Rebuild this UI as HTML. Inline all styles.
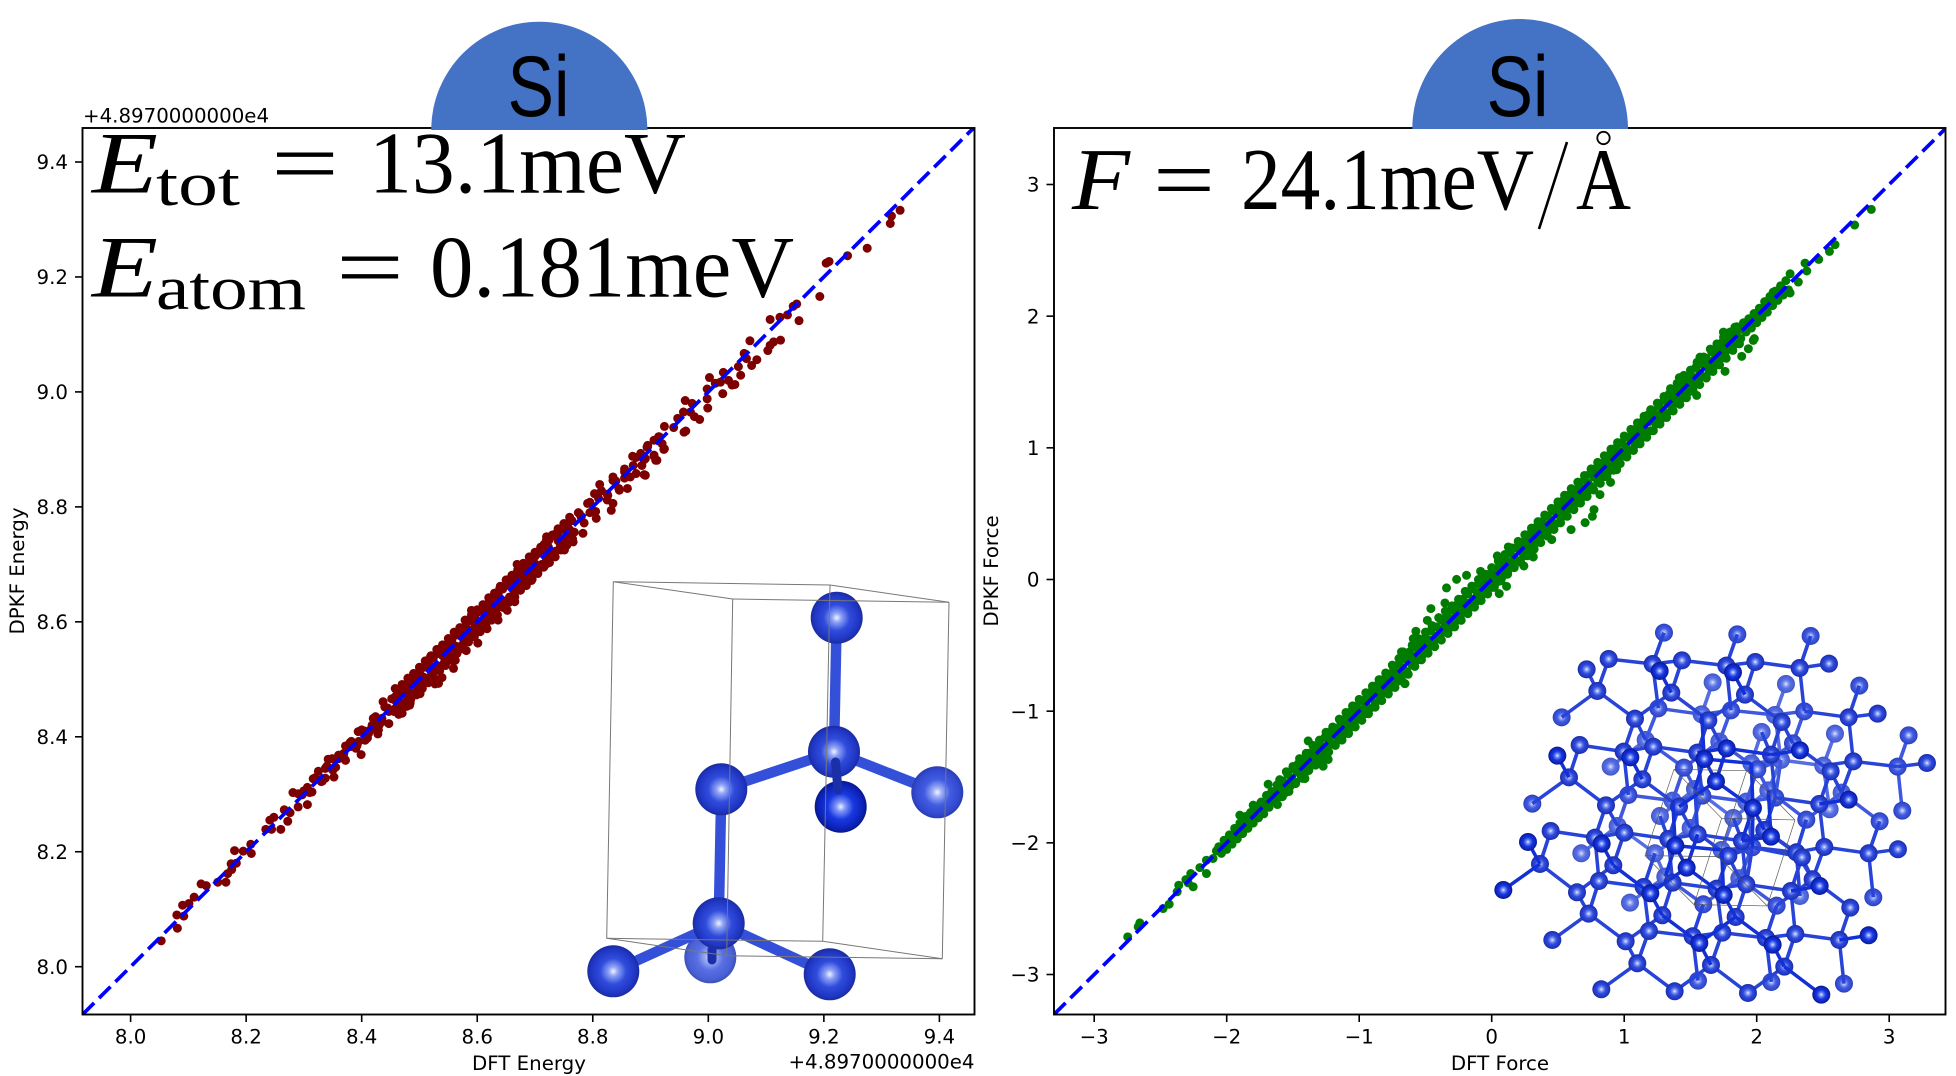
<!DOCTYPE html>
<html lang="en">
<head>
<meta charset="utf-8">
<title>DPKF parity plots for Si</title>
<style>
html,body{margin:0;padding:0;background:#fff;}
svg{display:block;}
.tick{font-family:"DejaVu Sans","Liberation Sans",sans-serif;font-size:19.8px;fill:#000;}
.math{font-family:"Liberation Serif",serif;fill:#000;}
.si{font-family:"Liberation Sans",sans-serif;fill:#000;}
</style>
</head>
<body>
<svg id="fig" xmlns="http://www.w3.org/2000/svg" width="1956" height="1076" viewBox="0 0 1956 1076">
<defs>
<radialGradient id="atom0" cx="50%" cy="50%" r="50%"><stop offset="0" stop-color="#eef4ff"/><stop offset=".18" stop-color="#a0b0f5"/><stop offset=".5" stop-color="#5870e4"/><stop offset=".85" stop-color="#4a60d6"/><stop offset="1" stop-color="#3c50b8"/></radialGradient>
<radialGradient id="atom1" cx="50%" cy="50%" r="50%"><stop offset="0" stop-color="#f0f6ff"/><stop offset=".18" stop-color="#9caef6"/><stop offset=".5" stop-color="#425ce0"/><stop offset=".85" stop-color="#3249d0"/><stop offset="1" stop-color="#2a3cb0"/></radialGradient>
<radialGradient id="atom2" cx="50%" cy="50%" r="50%"><stop offset="0" stop-color="#f0f6ff"/><stop offset=".18" stop-color="#8ea2f6"/><stop offset=".5" stop-color="#304cdc"/><stop offset=".85" stop-color="#2036c4"/><stop offset="1" stop-color="#1a2c9e"/></radialGradient>
<radialGradient id="atom3" cx="50%" cy="50%" r="50%"><stop offset="0" stop-color="#eef4ff"/><stop offset=".18" stop-color="#7f96f8"/><stop offset=".5" stop-color="#1838e0"/><stop offset=".85" stop-color="#0c22b8"/><stop offset="1" stop-color="#081888"/></radialGradient>
<clipPath id="clip-energy"><rect x="82.5" y="128" width="892" height="886.5"/></clipPath>
<clipPath id="clip-force"><rect x="1054" y="128" width="891.5" height="886.5"/></clipPath>
</defs>
<rect x="0" y="0" width="1956" height="1076" fill="#fff"/>
<g id="energy-marks" clip-path="url(#clip-energy)"></g>
<g id="force-marks" clip-path="url(#clip-force)"></g>
<g id="axes-layer"></g>
<g id="left-inset"></g>
<g id="right-inset" transform="translate(1480,600) scale(0.3333,0.3333)"></g>

<path d="M431.2,130 A108.1,108.3 0 0 1 647.4,130 Z" fill="#4472c4"/>
<text class="si" x="507.5" y="116" font-size="86" textLength="62" lengthAdjust="spacingAndGlyphs">Si</text>
<path d="M1412.3,129 A107.8,110 0 0 1 1628,129 Z" fill="#4472c4"/>
<text class="si" x="1486.5" y="116" font-size="86" textLength="62" lengthAdjust="spacingAndGlyphs">Si</text>

<g>
<text class="math" x="92" y="192.5" font-size="88" font-style="italic" textLength="66" lengthAdjust="spacingAndGlyphs">E</text>
<text class="math" x="156" y="205" font-size="62" textLength="84" lengthAdjust="spacingAndGlyphs">tot</text>
<text class="math" x="271" y="192.5" font-size="88" textLength="68" lengthAdjust="spacingAndGlyphs">=</text>
<text class="math" x="369" y="192.5" font-size="88" textLength="317" lengthAdjust="spacingAndGlyphs">13.1meV</text>
</g>
<g>
<text class="math" x="92" y="296.5" font-size="88" font-style="italic" textLength="66" lengthAdjust="spacingAndGlyphs">E</text>
<text class="math" x="156" y="309" font-size="62" textLength="150" lengthAdjust="spacingAndGlyphs">atom</text>
<text class="math" x="336" y="296.5" font-size="88" textLength="68" lengthAdjust="spacingAndGlyphs">=</text>
<text class="math" x="430" y="296.5" font-size="88" textLength="364" lengthAdjust="spacingAndGlyphs">0.181meV</text>
</g>
<g>
<text class="math" x="1072" y="209" font-size="88" font-style="italic" textLength="58" lengthAdjust="spacingAndGlyphs">F</text>
<text class="math" x="1153" y="209" font-size="88" textLength="62" lengthAdjust="spacingAndGlyphs">=</text>
<text class="math" x="1241" y="209" font-size="88" textLength="293" lengthAdjust="spacingAndGlyphs">24.1meV</text>
<line x1="1539" y1="229" x2="1567" y2="142" stroke="#000" stroke-width="2.6"/>
<text class="math" x="1576" y="209" font-size="88" textLength="55" lengthAdjust="spacingAndGlyphs">A</text>
<circle cx="1603.5" cy="138" r="6.2" fill="none" stroke="#000" stroke-width="1.8"/>
</g>
</svg>
<script>
// ---------- Chart data ----------
const energyLimits = [7.917, 9.461];
const forceLimits = [-3.303, 3.427];
const energyTicks = [8.0, 8.2, 8.4, 8.6, 8.8, 9.0, 9.2, 9.4];
const energyTickLabels = ["8.0", "8.2", "8.4", "8.6", "8.8", "9.0", "9.2", "9.4"];
const forceTicks = [-3, -2, -1, 0, 1, 2, 3];
const forceTickLabels = ["\u22123", "\u22122", "\u22121", "0", "1", "2", "3"];

const dftEnergy = [
8.053,8.081,8.092,8.080,8.090,8.101,8.110,8.122,8.131,8.151,8.165,8.168,8.175,8.174,8.183,8.180,8.195,8.209,8.208,8.234,
8.244,8.260,8.241,8.248,8.272,8.266,8.276,8.290,8.306,8.281,8.290,8.297,8.306,8.314,8.316,8.325,8.332,8.337,8.352,8.337,
8.355,8.342,8.349,8.360,8.372,8.399,8.369,8.381,8.372,8.392,8.382,8.406,8.394,8.412,8.428,8.418,8.429,8.424,8.435,8.447,
8.437,8.447,8.464,8.458,8.455,8.478,8.484,8.458,8.475,8.501,8.492,8.527,
8.473,8.483,8.470,8.490,8.501,8.494,8.507,8.533,8.539,8.519,8.524,8.530,8.542,8.559,8.562,8.542,8.553,8.565,8.581,8.573,
8.601,8.579,8.590,8.585,8.596,8.608,8.605,8.617,8.622,8.613,8.636,8.628,8.639,8.636,8.652,8.651,8.662,8.665,8.674,8.662,
8.669,8.677,8.694,8.688,8.705,8.705,8.720,8.720,8.723,8.737,8.751,8.766,8.757,8.783,8.777,8.806,8.791,8.832,8.835,8.803,
8.812,8.826,8.846,8.835,8.860,8.855,8.875,8.889,8.869,8.889,8.906,8.909,8.895,8.915,8.923,8.958,
8.891,8.883,8.891,8.906,8.911,8.894,8.906,8.914,8.924,8.920,8.924,8.940,8.947,8.961,8.957,8.960,8.972,8.969,8.976,8.985,
8.999,8.998,8.998,9.002,9.012,9.025,9.021,9.026,9.035,9.041,9.046,9.052,9.056,9.062,9.072,9.066,9.075,9.084,9.103,9.107,
9.113,9.125,9.107,9.124,9.137,9.157,9.147,9.153,9.193,9.204,9.209,9.241,9.275,9.315,9.317,9.332,
8.452,8.460,8.468,8.476,8.484,8.492,8.500,8.508,8.516,8.524,
8.532,8.540,8.548,8.556,8.564,8.572,8.580,8.588,8.596,8.604,
8.612,8.620,8.628,8.636,8.644,8.652,8.660,8.668,8.676,8.684,
8.692,8.700,8.708,8.716,8.724,8.732,8.740,8.748,8.756,8.764,
8.456,8.464,8.472,8.480,8.488,8.496,8.504,8.512,8.520,8.528,
8.536,8.544,8.552,8.560,8.568,8.576,8.584,8.592,8.600,8.608,
8.616,8.624,8.632,8.640,8.648,8.656,8.664,8.672,8.680,8.688,
8.696,8.704,8.712,8.720,8.728,8.736,8.744,8.752,8.760,8.768,
8.385,8.395,8.405,8.415,8.425,8.435,8.445,8.780,8.795,8.810,8.825,8.840,8.855,8.870,
8.460,8.480,8.500,8.520,8.540,8.560,8.580,8.600,8.620,8.640,8.660,8.680,8.700,8.720,8.740,8.760,
8.470,8.480,8.490,8.500,8.510,8.520,8.530,8.540,8.550,8.560,
8.570,8.580,8.590,8.600,8.610,8.620,8.630,8.640,8.650,8.660,
8.670,8.680,8.690,8.700,8.710,8.720,8.730,8.740,8.750,8.760,
8.475,8.485,8.495,8.505,8.515,8.525,8.535,8.545,8.555,8.565,
8.575,8.585,8.595,8.605,8.615,8.625,8.635,8.645,8.655,8.665,
8.675,8.685,8.695,8.705,8.715,8.725,8.735,8.745,8.755,8.765,
8.300,8.310,8.320,8.330,8.340,8.350,8.360,8.370,8.380,8.390,8.400,8.410,8.420,8.430,8.440,
8.775,8.785,8.795,8.805,8.815,8.825,8.835,8.845,8.855,8.865,8.875,8.885,8.895
];
const dpkfEnergy = [
8.045,8.067,8.088,8.090,8.107,8.110,8.121,8.144,8.141,8.147,8.147,8.162,8.169,8.179,8.180,8.202,8.201,8.197,8.213,8.239,
8.239,8.239,8.255,8.260,8.253,8.273,8.268,8.278,8.282,8.303,8.301,8.299,8.312,8.304,8.327,8.340,8.323,8.328,8.330,8.345,
8.347,8.361,8.362,8.362,8.359,8.369,8.371,8.383,8.384,8.385,8.392,8.394,8.409,8.406,8.405,8.420,8.412,8.435,8.426,8.423,
8.461,8.444,8.439,8.449,8.467,8.453,8.459,8.484,8.481,8.478,8.493,8.492,
8.475,8.455,8.441,8.510,8.475,8.499,8.504,8.493,8.503,8.539,8.516,8.545,8.527,8.519,8.533,8.554,8.562,8.557,8.550,8.574,
8.563,8.603,8.620,8.586,8.591,8.620,8.583,8.588,8.632,8.606,8.603,8.643,8.658,8.626,8.620,8.672,8.661,8.635,8.655,8.681,
8.700,8.693,8.672,8.684,8.690,8.719,8.748,8.701,8.730,8.754,8.725,8.739,8.771,8.754,8.788,8.780,8.806,8.794,8.806,8.823,
8.839,8.820,8.829,8.852,8.832,8.861,8.858,8.856,8.888,8.882,8.888,8.881,8.907,8.922,8.900,8.930,
8.855,8.893,8.884,8.890,8.881,8.904,8.916,8.922,8.901,8.910,8.940,8.938,8.954,8.932,8.965,8.985,8.980,8.965,8.957,8.952,
8.972,8.988,9.005,9.025,9.015,8.997,9.017,9.034,9.020,9.012,9.013,9.044,9.029,9.067,9.089,9.058,9.046,9.056,9.072,9.081,
9.087,9.090,9.126,9.130,9.134,9.124,9.149,9.153,9.166,9.224,9.227,9.237,9.250,9.293,9.306,9.316,
8.466,8.472,8.481,8.489,8.495,8.505,8.512,8.521,8.528,8.537,
8.545,8.552,8.561,8.568,8.577,8.587,8.593,8.602,8.609,8.618,
8.624,8.633,8.641,8.648,8.657,8.665,8.672,8.680,8.691,8.697,
8.705,8.714,8.724,8.735,8.742,8.750,8.755,8.761,8.768,8.776,
8.444,8.452,8.459,8.468,8.475,8.484,8.491,8.500,8.506,8.516,
8.523,8.531,8.540,8.547,8.556,8.562,8.571,8.579,8.586,8.596,
8.603,8.611,8.620,8.627,8.636,8.643,8.651,8.660,8.667,8.675,
8.684,8.691,8.700,8.708,8.716,8.723,8.732,8.740,8.748,8.756,
8.388,8.392,8.410,8.412,8.430,8.432,8.450,8.782,8.790,8.815,8.822,8.845,8.850,8.872,
8.461,8.479,8.502,8.519,8.541,8.559,8.581,8.600,8.621,8.639,8.661,8.679,8.701,8.720,8.741,8.760,
8.491,8.502,8.510,8.521,8.532,8.541,8.552,8.560,8.571,8.582,
8.590,8.603,8.612,8.621,8.630,8.642,8.650,8.662,8.673,8.681,
8.690,8.702,8.713,8.721,8.730,8.743,8.751,8.762,8.771,8.782,
8.454,8.465,8.473,8.484,8.494,8.503,8.515,8.524,8.533,8.545,
8.553,8.565,8.574,8.583,8.595,8.603,8.612,8.625,8.634,8.643,
8.655,8.663,8.674,8.684,8.695,8.703,8.713,8.725,8.733,8.744,
8.306,8.303,8.329,8.322,8.349,8.342,8.368,8.362,8.390,8.380,8.412,8.398,8.432,8.420,8.452,
8.790,8.772,8.808,8.792,8.828,8.812,8.846,8.832,8.866,8.852,8.886,8.872,8.905
];

const dftForce = [
-2.747,-2.656,-2.668,-2.480,-2.434,-2.362,-2.374,-2.308,-2.271,-2.253,-2.291,-2.202,-2.153,-2.153,-2.103,-2.078,-1.385,-1.272,-1.234,-1.687,-1.800,-1.901,-1.617,-1.410,-0.681,-0.655,
-0.572,-0.486,-0.459,-0.341,-0.265,-0.190,-0.353,-0.084,0.042,0.057,0.112,0.243,0.314,-0.655,0.453,0.599,0.705,0.760,0.772,0.817,0.897,0.943,0.125,-0.668,-0.592,
2.865,2.739,2.591,2.549,2.468,2.365,2.378,2.314,2.252,1.974,1.982,1.937,1.887,1.761,1.547,1.836,1.749,1.572,1.416,2.252,2.125,
-2.06,-2.02,-1.98,-1.94,-1.90,-1.86,-1.82,-1.78,-1.74,-1.70,
-1.66,-1.62,-1.58,-1.54,-1.50,-1.46,-1.42,-1.38,-1.34,-1.30,
-1.26,-1.22,-1.18,-1.14,-1.10,-1.06,-1.02,-0.98,-0.94,-0.90,
-0.86,-0.82,-0.78,-0.74,-0.70,-0.66,-0.62,-0.58,-0.54,-0.50,
-0.46,-0.42,-0.38,-0.34,-0.30,-0.26,-0.22,-0.18,-0.14,-0.10,
-0.06,-0.02,0.02,0.06,0.10,0.14,0.18,0.22,0.26,0.30,
0.34,0.38,0.42,0.46,0.50,0.54,0.58,0.62,0.66,0.70,
0.74,0.78,0.82,0.86,0.90,0.94,0.98,1.02,1.06,1.10,
1.14,1.18,1.22,1.26,1.30,1.34,1.38,1.42,1.46,1.50,
1.54,1.58,1.62,1.66,1.70,1.74,1.78,1.82,1.86,1.90,
1.94,1.98,2.02,2.06,2.10,2.14,2.18,2.22,
-2.04,-2.00,-1.96,-1.92,-1.88,-1.84,-1.80,-1.76,-1.72,-1.68,
-1.64,-1.60,-1.56,-1.52,-1.48,-1.44,-1.40,-1.36,-1.32,-1.28,
-1.24,-1.20,-1.16,-1.12,-1.08,-1.04,-1.00,-0.96,-0.92,-0.88,
-0.84,-0.80,-0.76,-0.72,-0.68,-0.64,-0.60,-0.56,-0.52,-0.48,
-0.44,-0.40,-0.36,-0.32,-0.28,-0.24,-0.20,-0.16,-0.12,-0.08,
-0.04,0.00,0.04,0.08,0.12,0.16,0.20,0.24,0.28,0.32,
0.36,0.40,0.44,0.48,0.52,0.56,0.60,0.64,0.68,0.72,
0.76,0.80,0.84,0.88,0.92,0.96,1.00,1.04,1.08,1.12,
1.16,1.20,1.24,1.28,1.32,1.36,1.40,1.44,1.48,1.52,
1.56,1.60,1.64,1.68,1.72,1.76,1.80,1.84,1.88,1.92,
1.96,2.00,2.04,2.08,2.12,2.16,2.20,2.24,
-2.00,-1.93,-1.86,-1.79,-1.72,-1.65,-1.58,-1.51,-1.44,-1.37,
-1.30,-1.23,-1.16,-1.09,-1.02,-0.95,-0.88,-0.81,-0.74,-0.67,
-0.60,-0.53,-0.46,-0.39,-0.32,-0.25,-0.18,-0.11,-0.04,0.03,
0.10,0.17,0.24,0.31,0.38,0.45,0.52,0.59,0.66,0.73,
0.80,0.87,0.94,1.01,1.08,1.15,1.22,1.29,1.36,1.43,
1.50,1.57,1.64,1.71,1.78,1.85,1.92,1.99,2.06,2.13,
-1.96,-1.89,-1.82,-1.75,-1.68,-1.61,-1.54,-1.47,-1.40,-1.33,
-1.26,-1.19,-1.12,-1.05,-0.98,-0.91,-0.84,-0.77,-0.70,-0.63,
-0.56,-0.49,-0.42,-0.35,-0.28,-0.21,-0.14,-0.07,0.00,0.07,
0.14,0.21,0.28,0.35,0.42,0.49,0.56,0.63,0.70,0.77,
0.84,0.91,0.98,1.05,1.12,1.19,1.26,1.33,1.40,1.47,
1.54,1.61,1.68,1.75,1.82,1.89,1.96,2.03,2.10,2.17,
-1.60,-1.55,-1.50,-1.45,-1.40,-1.35,-1.30,-1.25,-1.20,-1.15,
-1.10,-1.05,-1.00,-0.95,-0.90,-0.85,-0.80,-0.75,-0.70,-0.65,
-0.60,-0.55,-0.50,-0.45,-0.40,-0.35,-0.30,-0.25,-0.20,-0.15,
-0.10,-0.05,0.00,0.05,0.10,0.15,0.20,0.25,0.30,0.35,
0.40,0.45,0.50,0.55,0.60,0.65,0.70,0.75,0.80,0.85,
0.90,0.95,1.00,1.05,1.10,1.15,1.20,1.25,1.30,1.35,
1.40,1.45,1.50,1.55,1.60,1.65,1.70,1.75,1.80,1.85,
-1.58,-1.53,-1.48,-1.43,-1.38,-1.33,-1.28,-1.23,-1.18,-1.13,
-1.08,-1.03,-0.98,-0.93,-0.88,-0.83,-0.78,-0.73,-0.68,-0.63,
-0.58,-0.53,-0.48,-0.43,-0.38,-0.33,-0.28,-0.23,-0.18,-0.13,
-0.08,-0.03,0.02,0.07,0.12,0.17,0.22,0.27,0.32,0.37,
0.42,0.47,0.52,0.57,0.62,0.67,0.72,0.77,0.82,0.87,
0.92,0.97,1.02,1.07,1.12,1.17,1.22,1.27,1.32,1.37,
1.42,1.47,1.52,1.57,1.62,1.67,1.72,1.77,1.82,1.87
];
const dpkfForce = [
-2.714,-2.608,-2.638,-2.499,-2.466,-2.322,-2.372,-2.279,-2.233,-2.334,-2.304,-2.188,-2.233,-2.132,-2.119,-2.061,-1.226,-1.418,-1.367,-1.555,-1.714,-1.790,-1.709,-1.512,-0.550,-0.790,
-0.393,-0.310,-0.221,-0.064,0.001,0.032,-0.178,0.062,0.179,-0.107,-0.052,0.103,0.171,-0.791,0.303,0.379,0.432,0.480,0.531,0.645,0.738,0.834,0.247,-0.550,-0.449,
2.811,2.692,2.543,2.492,2.431,2.403,2.343,2.259,2.176,1.816,1.829,1.753,1.695,1.581,1.398,1.917,1.879,1.689,1.533,2.322,2.183,
-2.03,-1.98,-1.94,-1.89,-1.85,-1.80,-1.77,-1.72,-1.69,-1.64,
-1.61,-1.56,-1.53,-1.48,-1.44,-1.40,-1.37,-1.32,-1.28,-1.24,
-1.20,-1.16,-1.13,-1.08,-1.05,-1.00,-0.96,-0.92,-0.89,-0.84,
-0.80,-0.76,-0.72,-0.68,-0.64,-0.60,-0.55,-0.51,-0.47,-0.44,
-0.39,-0.36,-0.31,-0.27,-0.23,-0.19,-0.15,-0.11,-0.07,-0.03,
0.00,0.04,0.08,0.12,0.16,0.20,0.24,0.28,0.32,0.36,
0.40,0.44,0.48,0.52,0.56,0.60,0.64,0.68,0.72,0.76,
0.80,0.84,0.88,0.92,0.96,1.00,1.04,1.08,1.12,1.16,
1.20,1.25,1.28,1.32,1.36,1.41,1.44,1.49,1.52,1.56,
1.61,1.64,1.68,1.73,1.76,1.80,1.83,1.87,1.91,1.95,
1.98,2.02,2.06,2.11,2.15,2.19,2.23,2.27,
-2.08,-2.05,-2.01,-1.97,-1.93,-1.89,-1.85,-1.81,-1.78,-1.73,
-1.69,-1.65,-1.62,-1.57,-1.54,-1.49,-1.46,-1.41,-1.38,-1.33,
-1.30,-1.25,-1.22,-1.18,-1.14,-1.10,-1.06,-1.02,-0.98,-0.94,
-0.90,-0.86,-0.82,-0.78,-0.74,-0.70,-0.65,-0.61,-0.57,-0.52,
-0.49,-0.45,-0.40,-0.37,-0.33,-0.29,-0.25,-0.21,-0.17,-0.13,
-0.10,-0.06,-0.02,0.02,0.06,0.10,0.14,0.18,0.22,0.26,
0.30,0.34,0.38,0.42,0.46,0.50,0.54,0.58,0.62,0.66,
0.70,0.74,0.78,0.82,0.86,0.90,0.94,0.98,1.02,1.06,
1.10,1.13,1.18,1.22,1.26,1.30,1.34,1.38,1.42,1.46,
1.50,1.54,1.58,1.62,1.67,1.71,1.75,1.79,1.83,1.88,
1.91,1.95,1.99,2.03,2.08,2.12,2.16,2.20,
-2.00,-1.92,-1.86,-1.78,-1.72,-1.65,-1.57,-1.51,-1.44,-1.37,
-1.30,-1.22,-1.16,-1.09,-1.02,-0.95,-0.87,-0.81,-0.74,-0.67,
-0.60,-0.53,-0.46,-0.38,-0.32,-0.25,-0.18,-0.10,-0.04,0.03,
0.10,0.17,0.24,0.31,0.38,0.45,0.52,0.59,0.66,0.73,
0.80,0.87,0.94,1.01,1.08,1.15,1.22,1.29,1.36,1.43,
1.50,1.57,1.64,1.71,1.78,1.85,1.92,1.99,2.06,2.13,
-1.97,-1.88,-1.83,-1.74,-1.69,-1.60,-1.55,-1.46,-1.41,-1.32,
-1.27,-1.18,-1.13,-1.04,-0.99,-0.90,-0.85,-0.76,-0.71,-0.62,
-0.57,-0.48,-0.43,-0.34,-0.29,-0.20,-0.15,-0.06,-0.01,0.08,
0.13,0.22,0.27,0.36,0.41,0.50,0.55,0.64,0.69,0.78,
0.83,0.92,0.97,1.06,1.11,1.20,1.25,1.34,1.39,1.48,
1.53,1.62,1.67,1.76,1.81,1.90,1.95,2.04,2.09,2.18,
-1.52,-1.46,-1.42,-1.36,-1.32,-1.26,-1.22,-1.16,-1.12,-1.06,
-1.01,-0.96,-0.91,-0.86,-0.81,-0.76,-0.71,-0.65,-0.60,-0.56,
-0.50,-0.45,-0.40,-0.35,-0.29,-0.24,-0.20,-0.15,-0.09,-0.05,
0.00,0.04,0.09,0.14,0.19,0.24,0.29,0.34,0.39,0.44,
0.49,0.54,0.59,0.64,0.69,0.74,0.79,0.84,0.89,0.94,
0.99,1.04,1.09,1.14,1.19,1.24,1.29,1.34,1.39,1.45,
1.49,1.55,1.59,1.65,1.69,1.75,1.79,1.84,1.88,1.92,
-1.65,-1.61,-1.55,-1.51,-1.45,-1.41,-1.36,-1.31,-1.26,-1.22,
-1.17,-1.12,-1.07,-1.02,-0.97,-0.92,-0.87,-0.82,-0.77,-0.72,
-0.66,-0.61,-0.56,-0.51,-0.46,-0.41,-0.36,-0.31,-0.26,-0.21,
-0.16,-0.11,-0.06,-0.01,0.04,0.09,0.13,0.18,0.23,0.28,
0.33,0.38,0.43,0.48,0.53,0.58,0.63,0.68,0.73,0.78,
0.83,0.88,0.93,0.98,1.03,1.08,1.13,1.18,1.23,1.28,
1.33,1.38,1.43,1.48,1.53,1.58,1.63,1.68,1.74,1.79
];

// ---------- Inset illustration geometry (not chart data) ----------
const leftAtoms = [[710.3,957.3,0],[836.7,617.7,2],[834,751.7,2],[721.3,789.3,2],[937.3,792.3,1],[718.7,923.3,2],[613.3,971.3,2],[829.7,974.3,2],[840.7,806.7,3]];
const leftBonds = [[1,2],[2,3],[2,4],[3,5],[5,6],[5,7]];
const leftDarkStubs = [[835.5,762,838,790],[712,950,712,960]];
const leftBox = [
[[613.3,581.7],[732.7,599],[949,602.3],[830,585]],
[[606.7,938.3],[726.7,955.7],[942.3,958.7],[822.7,941.3]]
];
const rightAtoms = [
[698,247,0],[918,252,0],[845,396,0],[1065,401,0],[392,500,0],[540,648,0],[760,654,0],[304,760,0],[450,908,0],[960,888,0],[1049,628,0],[497,420,0],[718,425,0],[665,343,0],[885,345,0],[645,567,0],[865,571,0],[413,678,0],[632,684,0],[525,760,0],[725,750,0],[556,830,0],[778,835,0],[578,602,0],[799,605,0],[814,490,0],[1030,497,0],[1085,578,0],[903,480,0],
[552,98,1],[772,103,1],[992,108,1],[1138,257,1],[1286,406,1],[1267,632,1],[1180,892,1],[654,1142,1],[874,1146,1],[1092,1151,1],[245,352,1],[157,611,1],[535,325,1],[753,331,1],[973,334,1],[612,503,1],[832,508,1],[445,585,1],[667,587,1],[886,593,1],[979,659,1],[1199,664,1],[817,742,1],[670,913,1],[890,917,1],[1253,500,1],[939,430,1],
[386,177,2],[518,192,2],[606,181,2],[739,197,2],[826,186,2],[959,204,2],[1047,191,2],[320,208,2],[352,273,2],[574,278,2],[795,284,2],[465,356,2],[685,361,2],[905,366,2],[1106,352,2],[1193,341,2],[431,455,2],[299,435,2],[520,440,2],[652,458,2],[873,464,2],[1052,514,2],[1120,484,2],[1341,489,2],[267,532,2],[487,538,2],[378,616,2],[597,620,2],[1018,612,2],[212,693,2],[345,713,2],[565,717,2],[786,723,2],[853,690,2],[949,757,2],[966,772,2],[1033,741,2],[1166,760,2],[1254,748,2],[745,768,2],[180,792,2],[578,848,2],[357,843,2],[291,877,2],[491,861,2],[710,866,2],[799,853,2],[933,873,2],[998,838,2],[1111,923,2],[217,1020,2],[437,1024,2],[507,993,2],[638,1009,2],[727,998,2],[858,1014,2],[946,1002,2],[1078,1020,2],[364,1168,2],[584,1174,2],[804,1179,2],[326,941,2],[547,946,2],[767,951,2],[472,1090,2],[693,1095,2],[913,1100,2],[433,698,2],[653,703,2],[400,796,2],
[539,213,3],[759,217,3],[232,467,3],[451,472,3],[673,477,3],[740,445,3],[960,451,3],[708,544,3],[819,624,3],[1106,599,3],[144,726,3],[365,731,3],[586,737,3],[873,710,3],[70,870,3],[620,803,3],[511,880,3],[731,885,3],[1019,858,3],[658,1029,3],[878,1034,3],[1166,1006,3],[1024,1184,3]
];
const rightBondVectors = [[132,15],[88,-11],[34,-95],[14,133],[-34,96],[-32,-65],[-107,79],[113,83]];
const rightBox = [
[[582,508],[800,512],[945,660],[725,655]],
[[495,767],[715,770],[862,918],[642,914]]
];

// ---------- Helpers ----------
const SVGNS = "http://www.w3.org/2000/svg";
const bondColors = ["#566ee2", "#3f58de", "#2844d8", "#1230d6"];
function mk(tag, parent, attrs) {
  const el = document.createElementNS(SVGNS, tag);
  for (const k in attrs) el.setAttribute(k, attrs[k]);
  parent.appendChild(el);
  return el;
}
function linear(d0, d1, r0, r1) {
  return v => r0 + (v - d0) * (r1 - r0) / (d1 - d0);
}

// ---------- Axis functions ----------
const energyX = linear(8.0, 9.4, 130.6, 939.4);
const energyY = linear(8.0, 9.4, 966.7, 162);
const forceX = linear(-3, 3, 1094.2, 1889.2);
const forceY = linear(-3, 3, 974.5, 184.5);

function drawScatter(groupId, xs, ys, sx, sy, color, limits, name) {
  const g = document.getElementById(groupId);
  const n = Math.min(xs.length, ys.length);
  for (let i = 0; i < n; i++) {
    const c = mk("circle", g, {cx: sx(xs[i]).toFixed(2), cy: sy(ys[i]).toFixed(2), r: 4.5, fill: color});
    
    
  }
  const d = mk("line", g, {x1: sx(limits[0]), y1: sy(limits[0]), x2: sx(limits[1]), y2: sy(limits[1]), stroke: "#0000ff", "stroke-width": 3.7, "stroke-dasharray": "16.2 6.9"});
  
  
}

function drawAxes(cfg) {
  const layer = document.getElementById("axes-layer");
  const frame = mk("rect", layer, {x: cfg.left, y: cfg.top, width: cfg.right - cfg.left, height: cfg.bottom - cfg.top, fill: "none", stroke: "#000", "stroke-width": 1.9});
  
  
  cfg.ticks.forEach((v, i) => {
    const px = cfg.sx(v);
    const tx = mk("line", layer, {x1: px, y1: cfg.bottom, x2: px, y2: cfg.bottom + 7.5, stroke: "#000", "stroke-width": 1.6});
    
    
    const lx = mk("text", layer, {x: px, y: 1043.5, "text-anchor": "middle", class: "tick"});
    lx.textContent = cfg.labels[i];
    
    
    const py = cfg.sy(v);
    const ty = mk("line", layer, {x1: cfg.left - 7.5, y1: py, x2: cfg.left, y2: py, stroke: "#000", "stroke-width": 1.6});
    
    
    const ly = mk("text", layer, {x: cfg.left - 14.5, y: py + 7.2, "text-anchor": "end", class: "tick"});
    ly.textContent = cfg.labels[i];
    
    
  });
  const xt = mk("text", layer, {x: cfg.xLabelX, y: 1070, "text-anchor": "middle", class: "tick"});
  xt.textContent = cfg.xLabel;
  
  
  const yt = mk("text", layer, {x: 0, y: 0, "text-anchor": "middle", class: "tick", transform: "translate(" + cfg.yLabelX + ",571) rotate(-90)"});
  yt.textContent = cfg.yLabel;
  
  
}

function drawBox(parent, box, stroke, width) {
  const [a, b] = box;
  const segs = [];
  for (let i = 0; i < 4; i++) {
    segs.push([a[i], a[(i + 1) % 4]]);
    segs.push([b[i], b[(i + 1) % 4]]);
    segs.push([a[i], b[i]]);
  }
  segs.forEach(s => {
    const l = mk("line", parent, {x1: s[0][0], y1: s[0][1], x2: s[1][0], y2: s[1][1], stroke: stroke, "stroke-width": width});
    
    
  });
}

// ---------- Draw charts ----------
drawScatter("energy-marks", dftEnergy, dpkfEnergy, energyX, energyY, "#7d0000", energyLimits, "energy-point");
drawScatter("force-marks", dftForce, dpkfForce, forceX, forceY, "#007d00", forceLimits, "force-point");

drawAxes({name: "energy-axes", left: 82.5, right: 974.5, top: 128, bottom: 1014.5, sx: energyX, sy: energyY, ticks: energyTicks, labels: energyTickLabels, xLabel: "DFT Energy", yLabel: "DPKF Energy", xLabelX: 529, yLabelX: 24});
drawAxes({name: "force-axes", left: 1054, right: 1945.5, top: 128, bottom: 1014.5, sx: forceX, sy: forceY, ticks: forceTicks, labels: forceTickLabels, xLabel: "DFT Force", yLabel: "DPKF Force", xLabelX: 1500, yLabelX: 998});

const axesLayer = document.getElementById("axes-layer");
const offsetTop = mk("text", axesLayer, {x: 83, y: 122.5, class: "tick"});
offsetTop.textContent = "+4.8970000000e4";


const offsetBottom = mk("text", axesLayer, {x: 974.5, y: 1068.5, "text-anchor": "end", class: "tick"});
offsetBottom.textContent = "+4.8970000000e4";



// ---------- Left inset ----------
(function () {
  const g = document.getElementById("left-inset");
  const back = leftAtoms[0];
  const backAtom = mk("circle", g, {cx: back[0], cy: back[1], r: 26, fill: "url(#atom0)"});
  
  
  leftBonds.forEach(b => {
    const p = leftAtoms[b[0]], q = leftAtoms[b[1]];
    const l = mk("line", g, {x1: p[0], y1: p[1], x2: q[0], y2: q[1], stroke: "#3450d8", "stroke-width": 10.5});
    
    
  });
  leftAtoms.slice(1).forEach(a => {
    const c = mk("circle", g, {cx: a[0], cy: a[1], r: 26, fill: "url(#atom" + a[2] + ")"});
    
    
  });
  leftDarkStubs.forEach(s => {
    const l = mk("line", g, {x1: s[0], y1: s[1], x2: s[2], y2: s[3], stroke: "#1a2fa8", "stroke-width": 9, "stroke-linecap": "round"});
    
    
  });
  drawBox(g, leftBox, "#777", 1);
})();

// ---------- Right inset ----------
(function () {
  const g = document.getElementById("right-inset");
  for (let depth = 0; depth < 4; depth++) {
    for (let i = 0; i < rightAtoms.length; i++) {
      for (let j = 0; j < rightAtoms.length; j++) {
        if (i === j) continue;
        const p = rightAtoms[i], q = rightAtoms[j];
        if (Math.max(p[2], q[2]) !== depth) continue;
        const dx = q[0] - p[0], dy = q[1] - p[1];
        const hit = rightBondVectors.some(v => Math.abs(v[0] - dx) < 18 && Math.abs(v[1] - dy) < 18);
        if (!hit) continue;
        const l = mk("line", g, {x1: p[0], y1: p[1], x2: q[0], y2: q[1], stroke: bondColors[depth], "stroke-width": 10.5});
        
        
      }
    }
    rightAtoms.filter(a => a[2] === depth).forEach(a => {
      const c = mk("circle", g, {cx: a[0], cy: a[1], r: 27, fill: "url(#atom" + depth + ")"});
      
      
    });
  }
  drawBox(g, rightBox, "#555", 2);
})();
</script>
</body>
</html>
